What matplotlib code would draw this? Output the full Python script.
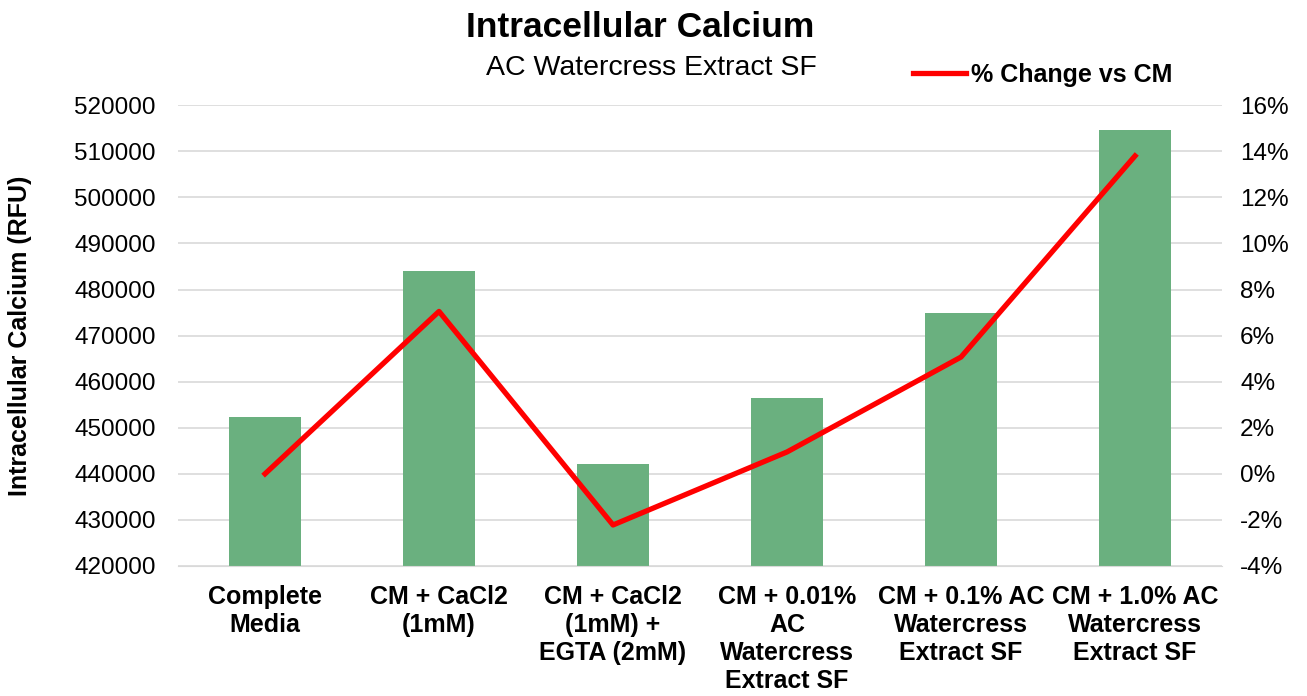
import matplotlib.pyplot as plt
from matplotlib.ticker import FuncFormatter

plt.rcParams['font.family'] = ['Liberation Sans', 'DejaVu Sans']

categories = ['Complete\nMedia', 'CM + CaCl2\n(1mM)', 'CM + CaCl2\n(1mM) +\nEGTA (2mM)',
              'CM + 0.01%\nAC\nWatercress\nExtract SF', 'CM + 0.1% AC\nWatercress\nExtract SF',
              'CM + 1.0% AC\nWatercress\nExtract SF']
calcium_rfu = [452300, 484100, 442200, 456500, 474900, 514700]
pct_change = [0.0, 7.05, -2.22, 0.95, 5.07, 13.8]

fig = plt.figure(figsize=(13.07, 6.96), dpi=100)
ax = fig.add_axes([0.1362, 0.1868, 0.7988, 0.662])
x = range(len(categories))

ax.bar(x, calcium_rfu, width=0.41, color='#6AB07F', zorder=2)
ax.set_ylim(420000, 520000)
ax.set_yticks(range(420000, 520001, 10000))
ax.set_xlim(-0.5, len(categories) - 0.5)
ax.grid(axis='y', color='#D9D9D9', linewidth=1.2, zorder=0)
ax.set_axisbelow(True)
for s in ['top', 'right', 'left']:
    ax.spines[s].set_visible(False)
ax.spines['bottom'].set_color('#D9D9D9')
ax.tick_params(axis='y', length=0, labelsize=17.5, pad=16)
ax.tick_params(axis='x', length=0, pad=14)
ax.set_xticks(list(x))
ax.set_xticklabels(categories, fontweight='bold', fontsize=18, linespacing=1.2)
ax.set_ylabel('Intracellular Calcium (RFU)', fontweight='bold', fontsize=18, labelpad=30)

ax2 = ax.twinx()
ax2.plot(x, pct_change, color='#FF0000', linewidth=3.8, label='% Change vs CM', zorder=3)
ax2.set_ylim(-4, 16)
ax2.set_yticks(range(-4, 17, 2))
ax2.yaxis.set_major_formatter(FuncFormatter(lambda v, p: f'{int(v)}%'))
ax2.tick_params(length=0, labelsize=17.5, pad=13)
for s in ['top', 'right', 'left', 'bottom']:
    ax2.spines[s].set_visible(False)

fig.legend(loc='center left', bbox_to_anchor=(0.6986, 0.892), frameon=False,
           prop={'weight': 'bold', 'size': 18}, handlelength=2.1, handletextpad=0.2,
           borderaxespad=0, borderpad=0)

fig.text(0.49, 0.96, 'Intracellular Calcium', ha='center', va='center', fontsize=25.5, fontweight='bold')
fig.text(0.4985, 0.903, 'AC Watercress Extract SF', ha='center', va='center', fontsize=20.5)

fig.savefig('out.png', dpi=100)
